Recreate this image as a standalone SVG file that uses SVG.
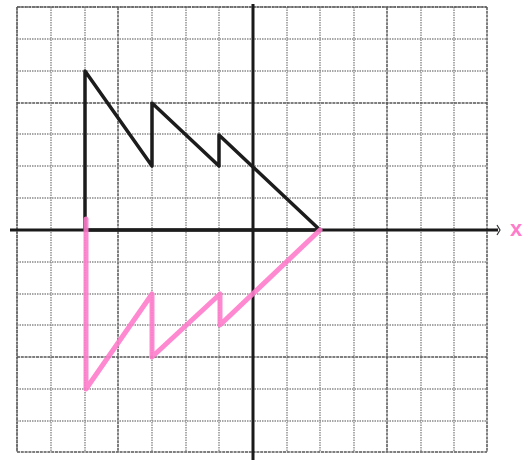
<svg xmlns="http://www.w3.org/2000/svg" width="532" height="460" viewBox="0 0 532 460">
<style>
.g{stroke:#8a8a8a;stroke-width:1.4;stroke-dasharray:1.5 1;fill:none}
.gd{stroke:#555;stroke-width:1.5;fill:none;stroke-dasharray:3 0.8}
.ax{stroke:#1a1a1a;stroke-width:3;fill:none}
.blk{stroke:#1c1c1c;stroke-width:3.5;fill:none;stroke-linejoin:round;stroke-linecap:round}
.pk{stroke:#ff7ccb;stroke-opacity:0.9;stroke-width:5;fill:none;stroke-linejoin:round;stroke-linecap:round}
</style>
<rect width="532" height="460" fill="#ffffff"/>
<g id="grid">
<path class="g" d="M17 7V452M51 7V452M85 7V452M152 7V452M186 7V452M219 7V452M287 7V452M320 7V452M354 7V452M421 7V452M454 7V452"/>
<path class="gd" d="M118 7V452M387 7V452M487 7V452M17 7V452"/>
<path class="g" d="M17 7H487M17 39H487M17 71H487M17 134H487M17 166H487M17 198H487M17 262H487M17 294H487M17 325H487M17 389H487M17 421H487"/>
<path class="gd" d="M17 103H487M17 357H487M17 452H487M17 7H487"/>
</g>
<g id="axes">
<path class="ax" d="M10 230H498"/>
<path class="ax" d="M253 4V460"/>
<path d="M497 225L500 230L497 235" stroke="#333" stroke-width="1.2" fill="none"/>
<text x="516" y="236" font-family="Liberation Sans, sans-serif" font-size="22" font-weight="bold" fill="#ff7ccb" text-anchor="middle">x</text>
</g>
<g id="shape-original">
<path class="blk" d="M85 230V71L152 166V103L219 166V135L320 230Z"/>
</g>
<g id="shape-reflected">
<path class="pk" d="M86 219V389L152 294V357L220 294V325L320 230"/>
</g>
</svg>
